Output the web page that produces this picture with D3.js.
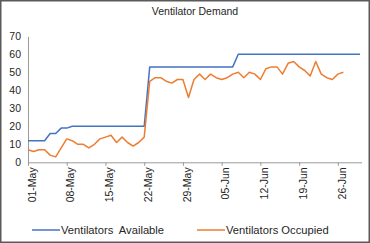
<!DOCTYPE html>
<html>
<head>
<meta charset="utf-8">
<script src="https://cdn.jsdelivr.net/npm/d3@7"></script>
<style>
  html, body { margin: 0; padding: 0; background: #fff; }
  svg { display: block; font-family: "Liberation Sans", Arial, sans-serif; }
</style>
</head>
<body>
<svg id="chart" width="370" height="243"></svg>
<script>
// ---- data ----
const startDate = "2020-05-01";
const available = [12,12,12,12,16,16,19,19,20,20,20,20,20,20,20,20,20,20,20,20,20,20,
  53,53,53,53,53,53,53,53,53,53,53,53,53,53,53,53,
  60,60,60,60,60,60,60,60,60,60,60,60,60,60,60,60,60,60,60,60,60,60,60];
const occupied = [7,6,7,7,4,3,8,13,12,10,10,8,10,13,14,15,11,14,11,9,11,14,
  45,47,47,45,44,46,46,36,46,49,46,49,47,46,47,49,50,47,50,49,46,52,53,53,49,55,56,53,51,48,56,49,47,46,49,50];
const xTickLabels = ["01-May","08-May","15-May","22-May","29-May","05-Jun","12-Jun","19-Jun","26-Jun"];
const yTicks = [0,10,20,30,40,50,60,70];
const seriesNames = ["Ventilators  Available", "Ventilators Occupied"];
const colors = ["#4472C4", "#ED7D31"];

// ---- build ----
const parseStart = d3.utcParse("%Y-%m-%d");
const t0 = parseStart(startDate);
const dayAt = i => d3.utcDay.offset(t0, i);
const parseTick = d3.utcParse("%d-%b-%Y");
const tickDates = xTickLabels.map(s => parseTick(s + "-2020"));

const svg = d3.select("#chart");
const W = 370, H = 243;

const x = d3.scaleUtc().domain([t0, dayAt(available.length - 1)]).range([28, 360]);
const y = d3.scaleLinear().domain([0, 70]).range([162.3, 36.3]);

// frame
svg.append("rect").attr("x", 0.75).attr("y", 0.75).attr("width", W - 1.5).attr("height", H - 1.5)
  .attr("fill", "#fff").attr("stroke", "#5a5a5a").attr("stroke-width", 1.5);

// title
svg.append("text").attr("x", 195).attr("y", 15).attr("text-anchor", "middle")
  .attr("font-size", 10.5).attr("fill", "#262626").text("Ventilator Demand");

// y axis
const yAxis = svg.append("g").attr("transform", "translate(28,0)")
  .call(d3.axisLeft(y).tickValues(yTicks).tickSize(0).tickPadding(7).tickFormat(d3.format("d")));
yAxis.select(".domain").attr("stroke", "#9a9a9a");
yAxis.selectAll("text").attr("font-size", 10.5).attr("fill", "#262626").attr("font-family", "Liberation Sans, Arial, sans-serif");

// x axis
const xAxis = svg.append("g").attr("transform", "translate(0,162.3)")
  .call(d3.axisBottom(x).tickValues(tickDates).tickSize(3.5).tickSizeOuter(0).tickFormat(d3.utcFormat("%d-%b")));
xAxis.select(".domain").attr("stroke", "#9a9a9a").attr("d", "M28,0.5H362");
xAxis.selectAll(".tick line").attr("stroke", "#9a9a9a");
xAxis.selectAll("text")
  .attr("font-size", 10.5).attr("fill", "#262626").attr("font-family", "Liberation Sans, Arial, sans-serif")
  .attr("text-anchor", "end")
  .attr("transform", "translate(3.5,5) rotate(-90)")
  .attr("x", 0).attr("y", 0).attr("dy", "0.35em");

// lines
const line = d3.line().x((d, i) => x(dayAt(i))).y(d => y(d));
[available, occupied].forEach((s, k) => {
  svg.append("path").datum(s).attr("d", line).attr("fill", "none")
    .attr("stroke", colors[k]).attr("stroke-width", 1.5).attr("stroke-linejoin", "round");
});

// legend
const legX = [32, 197];
seriesNames.forEach((name, k) => {
  const g = svg.append("g").attr("transform", `translate(${legX[k]},230)`);
  g.append("line").attr("x1", 0).attr("x2", 28).attr("y1", 0).attr("y2", 0)
    .attr("stroke", colors[k]).attr("stroke-width", 1.5);
  g.append("text").attr("x", 29).attr("y", 0).attr("dy", "0.35em")
    .attr("font-size", 11.2).attr("fill", "#262626").style("white-space", "pre").text(name);
});
</script>
</body>
</html>
